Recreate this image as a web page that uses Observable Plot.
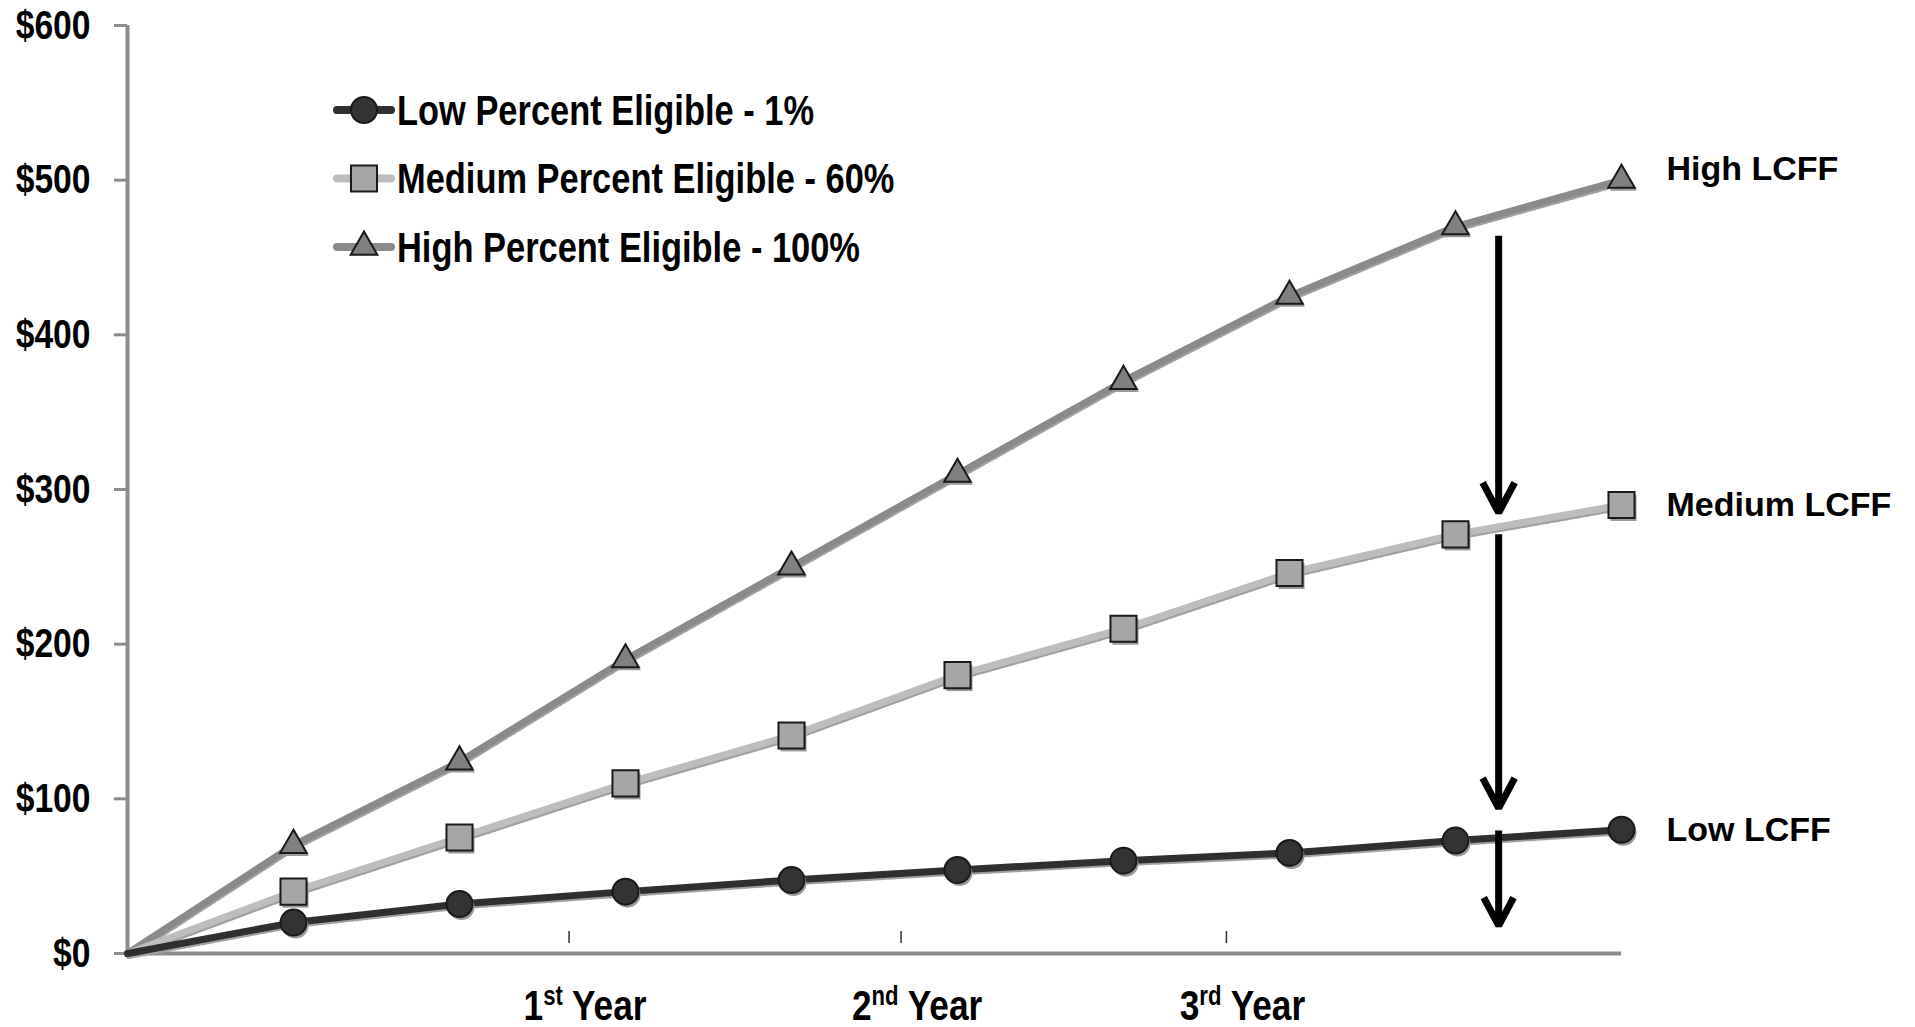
<!DOCTYPE html>
<html>
<head>
<meta charset="utf-8">
<script src="https://cdn.jsdelivr.net/npm/d3@7"></script>
<script src="https://cdn.jsdelivr.net/npm/@observablehq/plot@0.6"></script>
<style>
  html, body { margin: 0; padding: 0; background: #fff; overflow: hidden; }
  #chart { width: 1915px; height: 1027px; }
</style>
</head>
<body>
<div id="chart"></div>
<script>
// ---- data ----
const steps = [0, 1, 2, 3, 4, 5, 6, 7, 8, 9];
const lowValues = [0, 20, 32, 40, 47.5, 54, 60, 65, 73, 80];
const mediumValues = [0, 40, 75, 110, 141, 180, 210, 246, 271, 290];
const highValues = [0, 70, 124, 190, 250, 310, 370, 425, 470, 500];
const seriesNames = ["Low Percent Eligible - 1%", "Medium Percent Eligible - 60%", "High Percent Eligible - 100%"];
const endLabels = ["Low LCFF", "Medium LCFF", "High LCFF"];
const yTicks = [0, 100, 200, 300, 400, 500, 600];
const xTickValues = [2.66, 4.66, 6.62];
const xTickLabels = ["1st Year", "2nd Year", "3rd Year"];
const arrowX = 8.26;
const arrowStarts = [464, 271, 79.5];
const arrowEnds = [285, 94, 18];

// ---- styles ----
const lineColors = ["#2f2f2f", "#bdbdbd", "#8a8a8a"];
const markerFills = ["#333333", "#a6a6a6", "#808080"];
const markerSymbols = ["circle", "square", "triangle"];
const markerR = [13, 14.7, 9.9];
const regular = "'Liberation Sans', Arial, sans-serif";
const squeeze = 0.82;

const allValues = [lowValues, mediumValues, highValues];
const rows = [];
allValues.forEach((vals, s) => steps.forEach((x, i) => rows.push({series: s, step: x, value: vals[i]})));
const drawOrder = [2, 1, 0];
const arrows = arrowStarts.map((s, i) => ({start: s, end: arrowEnds[i]}));

const marks = [];
// axis lines
marks.push(Plot.ruleX([0], {stroke: "#8c8c8c", strokeWidth: 4}));
marks.push(Plot.ruleY([0], {stroke: "#8c8c8c", strokeWidth: 4}));
marks.push(Plot.axisY(yTicks, {
  tickSize: 13, tickPadding: 24, stroke: "#8c8c8c", strokeWidth: 3,
  tickFormat: d => "$" + d, fontSize: 41, fontWeight: "bold", fill: "#000",
  fontFamily: regular, label: null
}));
marks.push(Plot.axisX(xTickValues, {
  tickSize: 12, dy: -22, stroke: "#333", strokeWidth: 1.5, tickFormat: () => "", label: null
}));
marks.push(Plot.text(xTickLabels, {
  x: (d, i) => xTickValues[i], frameAnchor: "bottom", dy: 66, dx: 16, text: d => d,
  fontSize: 43, fontWeight: "bold", fontFamily: regular, fill: "#000"
}));

// lines: shadows then strokes
for (const s of drawOrder) {
  const data = rows.filter(r => r.series === s);
  marks.push(Plot.line(data, {x: "step", y: "value", stroke: "#a0a0a0", strokeWidth: 4, strokeDasharray: "3,2", dx: 1, dy: 3.5}));
  marks.push(Plot.line(data, {x: "step", y: "value", stroke: lineColors[s], strokeWidth: 7}));
}
// markers
for (const s of drawOrder) {
  const data = rows.filter(r => r.series === s && r.step > 0);
  marks.push(Plot.dot(data, {x: "step", y: "value", symbol: markerSymbols[s], r: markerR[s], fill: "#9a9a9a", stroke: "none", dx: 2, dy: 3}));
  marks.push(Plot.dot(data, {x: "step", y: "value", symbol: markerSymbols[s], r: markerR[s], fill: markerFills[s], stroke: "#1a1a1a", strokeWidth: 2}));
}
// end labels
const lastIdx = steps.length - 1;
[0, 1, 2].forEach(s => {
  marks.push(Plot.text([endLabels[s]], {
    x: steps[lastIdx], y: allValues[s][lastIdx], text: d => d, textAnchor: "start",
    dx: 45, dy: s === 2 ? -11 : 0, fontSize: 34, fontWeight: "bold", fontFamily: regular, fill: "#000"
  }));
});
// arrows
marks.push(Plot.arrow(arrows, {
  x1: arrowX, x2: arrowX, y1: "start", y2: "end", stroke: "#000", strokeWidth: 7,
  headAngle: 56, headLength: 7.3, strokeLinecap: "butt", strokeLinejoin: "miter"
}));

const chart = Plot.plot({
  width: 1915, height: 1027,
  marginLeft: 127, marginRight: 294, marginTop: 25, marginBottom: 74,
  x: {domain: [0, 9], axis: null},
  y: {domain: [0, 600], axis: null},
  style: {background: "#fff", fontFamily: regular, overflow: "visible"},
  marks
});
document.getElementById("chart").appendChild(chart);

// horizontally condense text elements (narrow bold look)
function condense(nodes, k) {
  nodes.forEach(node => {
    const el = d3.select(node);
    const tr = el.attr("transform");
    if (tr) {
      el.attr("transform", tr + ` scale(${k},1)`);
    } else {
      const x = +el.attr("x") || 0, y = +el.attr("y") || 0;
      el.attr("x", null).attr("y", null).attr("transform", `translate(${x},${y}) scale(${k},1)`);
    }
  });
}

const allTexts = Array.from(chart.querySelectorAll("text"));
const yearNodes = allTexts.filter(n => /^\d+(st|nd|rd|th)\s/.test(n.textContent));
const dollarNodes = allTexts.filter(n => /^\$\d+$/.test(n.textContent));

// superscripts for ordinal labels
yearNodes.forEach(node => {
  const t = d3.select(node);
  const m = /^(\d+)(st|nd|rd|th)(.*)$/.exec(node.textContent);
  if (!m) return;
  t.selectAll("*").remove();
  t.text("");
  t.append("tspan").text(m[1]);
  t.append("tspan").attr("font-size", 27).attr("dy", -15).text(m[2]);
  t.append("tspan").attr("dy", 15).text(m[3]);
});
condense(yearNodes, squeeze);
condense(dollarNodes, squeeze);

// legend
const lg = d3.select(chart).append("g").attr("aria-label", "legend");
seriesNames.forEach((name, s) => {
  const cy = 110 + s * 68.5;
  lg.append("line").attr("x1", 337).attr("x2", 391).attr("y1", cy).attr("y2", cy)
    .attr("stroke", lineColors[s]).attr("stroke-width", 8).attr("stroke-linecap", "round");
  const type = {circle: d3.symbolCircle, square: d3.symbolSquare, triangle: d3.symbolTriangle}[markerSymbols[s]];
  const size = Math.PI * markerR[s] * markerR[s];
  lg.append("path").attr("transform", `translate(364,${cy})`).attr("d", d3.symbol(type, size)())
    .attr("fill", markerFills[s]).attr("stroke", "#1a1a1a").attr("stroke-width", 2);
  lg.append("text").attr("transform", `translate(397,${cy}) scale(${squeeze},1)`).attr("dy", "0.35em")
    .attr("text-anchor", "start").text(name)
    .attr("font-family", regular).attr("font-weight", "bold").attr("font-size", 42).attr("fill", "#000");
});
</script>
</body>
</html>
